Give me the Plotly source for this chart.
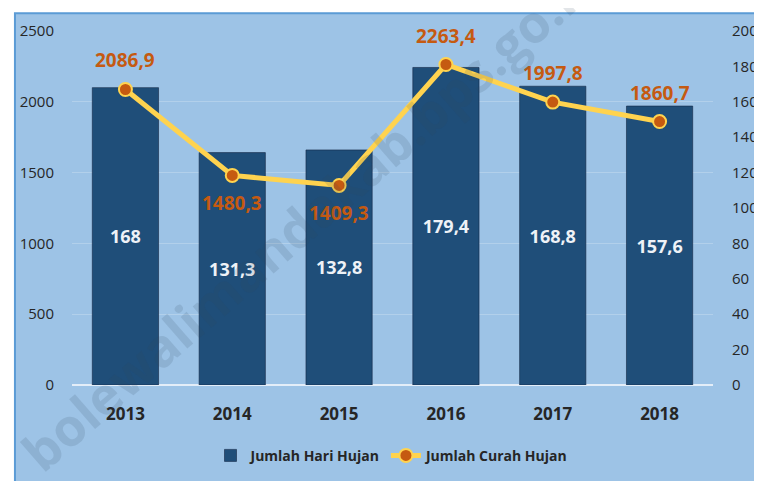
import plotly.graph_objects as go

years = [2013, 2014, 2015, 2016, 2017, 2018]
hari_hujan = [168, 131.3, 132.8, 179.4, 168.8, 157.6]
curah_hujan = [2086.9, 1480.3, 1409.3, 2263.4, 1997.8, 1860.7]
curah_label_pos = ["above", "below", "below", "above", "above", "above"]

def fmt(v):
    s = ("%g" % v)
    return s.replace(".", ",")

BG = "#9DC3E6"
BAR = "#1F4E79"
LINE = "#FFD34F"
MARK = "#C55A11"
FONT = "Open Sans"

fig = go.Figure()
fig.add_trace(go.Bar(
    x=years, y=hari_hujan, name="Jumlah Hari Hujan",
    marker=dict(color=BAR, line=dict(color="rgba(20,40,70,0.6)", width=1)),
    text=[fmt(v) for v in hari_hujan], textposition="inside",
    insidetextanchor="middle",
    textfont=dict(color="#EEF2F7", size=18, family=FONT, weight="bold"),
    yaxis="y",
))
fig.add_trace(go.Scatter(
    x=years, y=curah_hujan, name="Jumlah Curah Hujan", mode="lines+markers",
    line=dict(color=LINE, width=5),
    marker=dict(color=MARK, size=13, line=dict(color=LINE, width=2)),
    yaxis="y2",
))

annotations = []
for yr, v, pos in zip(years, curah_hujan, curah_label_pos):
    annotations.append(dict(
        x=yr, y=v, xref="x", yref="y2", text=fmt(v), showarrow=False,
        yshift=29 if pos == "above" else -28,
        font=dict(color=MARK, size=19, family=FONT, weight="bold"),
    ))
# watermark
annotations.append(dict(
    x=0.37, y=0.48, xref="paper", yref="paper", text="bolewalimandakab.bps.go.id",
    showarrow=False, textangle=-41,
    font=dict(color="rgba(50,70,95,0.14)", size=52, family=FONT, weight="bold"),
))

fig.update_layout(
    width=762, height=481,
    margin=dict(l=59, r=55, t=19, b=104),
    paper_bgcolor="white",
    plot_bgcolor="rgba(0,0,0,0)",
    bargap=0.38,
    font=dict(family=FONT, color="#262626"),
    showlegend=True,
    legend=dict(orientation="h", x=0.5, xanchor="center", y=-0.2, yanchor="middle",
                font=dict(size=14, family=FONT, color="#262626", weight="bold"),
                bgcolor="rgba(0,0,0,0)"),
    xaxis=dict(
        type="linear", range=[years[0] - 0.5, years[-1] + 0.5],
        tickmode="array", tickvals=years, ticktext=[str(y) for y in years],
        showgrid=False, showline=False, zeroline=False,
        ticks="outside", ticklen=14, tickcolor="rgba(0,0,0,0)",
        tickfont=dict(size=17, family=FONT, color="#262626", weight="bold"),
    ),
    yaxis=dict(
        side="right", range=[0, 200], dtick=20, showgrid=False, zeroline=False,
        showline=False, ticks="outside", ticklen=15, tickcolor="rgba(0,0,0,0)",
        tickfont=dict(size=15, family=FONT, color="#262626"),
    ),
    yaxis2=dict(
        side="left", overlaying="y", range=[0, 2500], dtick=500,
        showgrid=True, gridcolor="rgba(255,255,255,0.22)", gridwidth=1,
        zeroline=True, zerolinecolor="rgba(235,242,250,0.9)", zerolinewidth=2,
        showline=False, ticks="outside", ticklen=14, tickcolor="rgba(0,0,0,0)",
        tickfont=dict(size=15, family=FONT, color="#262626"),
    ),
    annotations=annotations,
    shapes=[dict(
        type="rect", xref="paper", yref="paper",
        x0=-0.089, x1=1.2, y0=-0.4, y1=1.05,
        fillcolor=BG, line=dict(color="#5B9BD5", width=2), layer="below",
    )],
)

fig.write_html("out.html")
